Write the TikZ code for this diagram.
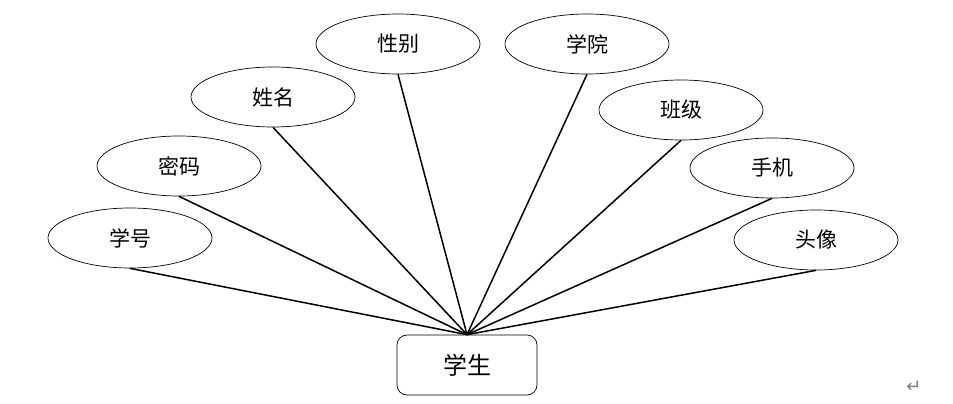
\documentclass[tikz,border=0pt]{standalone}
\usepackage{fontspec}
\newfontfamily\cjk{Noto Sans CJK SC}
\newfontfamily\symfont{DejaVu Sans}
\usetikzlibrary{shapes.geometric}

\begin{document}
\begin{tikzpicture}[x=1pt, y=-1pt,
    attr/.style={ellipse, draw, line width=0.7pt, minimum width=164pt, minimum height=60pt, inner sep=0pt, font=\cjk\fontsize{21}{25}\selectfont},
    entity/.style={rectangle, draw, rounded corners=10pt, line width=0.7pt, minimum width=140pt, minimum height=60pt, font=\cjk\fontsize{24}{28}\selectfont},
    link/.style={line width=1.5pt}]

    \useasboundingbox[fill=white] (0,0) rectangle (953,404);

    \node[entity] (student) at (467,365) {学生};

    \node[attr] (xuehao) at (130,238) {学号};
    \node[attr] (mima) at (179,166) {密码};
    \node[attr] (xingming) at (273,97) {姓名};
    \node[attr] (xingbie) at (398,44) {性别};
    \node[attr] (xueyuan) at (587,44) {学院};
    \node[attr] (banji) at (681,110) {班级};
    \node[attr] (shouji) at (772,168) {手机};
    \node[attr] (touxiang) at (816,240) {头像};

    \foreach \a in {xuehao, mima, xingming, xingbie, xueyuan, banji, shouji, touxiang}
        \draw[link] (\a.south) -- (student.north);

    \node[text=gray, font=\symfont\fontsize{18}{20}\selectfont] (mark) at (914,387) {↵};

\end{tikzpicture}
\end{document}
